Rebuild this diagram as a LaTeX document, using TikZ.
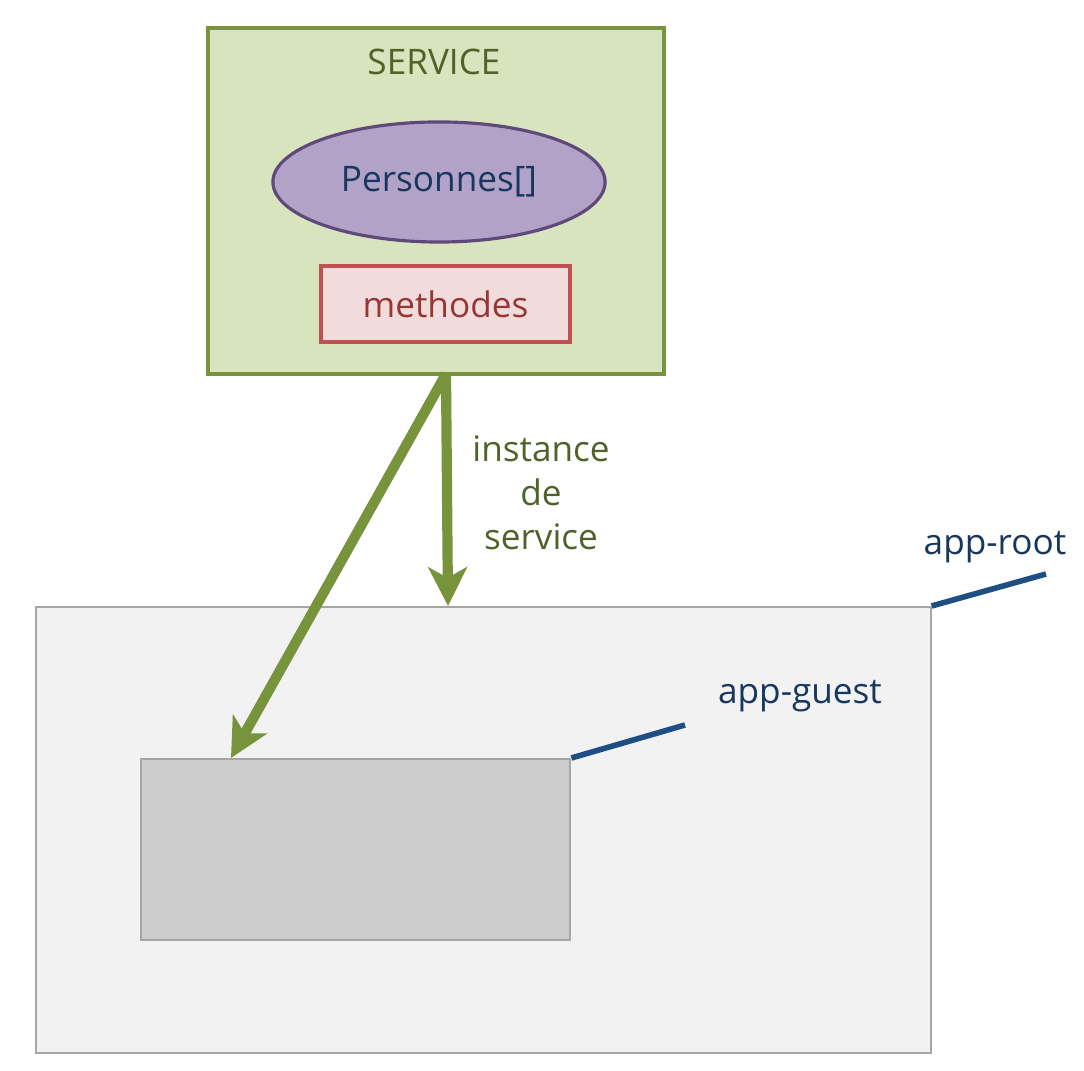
\documentclass[tikz,border=0pt]{standalone}
\usepackage{fontspec}
\setmainfont{Open Sans}
\usetikzlibrary{arrows.meta,shapes.geometric}

\definecolor{svcgreen}{HTML}{77933C}
\definecolor{svcfill}{HTML}{D7E4BD}
\definecolor{svctext}{HTML}{4F6228}
\definecolor{persfill}{HTML}{B3A2C7}
\definecolor{persdraw}{HTML}{5F497A}
\definecolor{methfill}{HTML}{F2DCDB}
\definecolor{methdraw}{HTML}{C0504D}
\definecolor{methtext}{HTML}{953735}
\definecolor{navy}{HTML}{17375E}
\definecolor{callout}{HTML}{1F4E85}
\definecolor{boxgray}{HTML}{A6A6A6}

\tikzset{
  compbox/.style={draw=boxgray, line width=0.6pt, inner sep=0pt, anchor=north west},
  injarrow/.style={svcgreen, line width=2.9pt, -{Stealth[length=11pt, width=11pt, inset=3pt]}},
  calloutline/.style={callout, line width=1.6pt},
  bigtext/.style={font=\fontsize{10pt}{12.5pt}\selectfont}
}

\begin{document}
\begin{tikzpicture}[x=0.01cm, y=-0.01cm]

    \useasboundingbox (0,0) rectangle (1084,1071);

    % service and its content
    \node[draw=svcgreen, fill=svcfill, line width=1.2pt, inner sep=0pt,
          minimum width=4.56cm, minimum height=3.46cm, anchor=north west] (service) at (206,26) {};
    \node[bigtext, text=svctext] (servicelbl) at (434,62) {SERVICE};
    \node[ellipse, draw=persdraw, fill=persfill, line width=0.9pt, minimum width=3.32cm,
          minimum height=1.2cm, bigtext, text=navy] (personnes) at (439,182) {Personnes[]};
    \node[draw=methdraw, fill=methfill, line width=0.9pt, minimum width=2.49cm, minimum height=0.76cm,
          bigtext, text=methtext] (methodes) at (445.5,304) {methodes};

    % components
    \node[compbox, fill=black!5, minimum width=8.94cm, minimum height=4.46cm] (approot) at (35,606) {};
    \node[compbox, fill=black!20, minimum width=4.29cm, minimum height=1.81cm] (appguest) at (140,758) {};

    \coordinate (roottip) at (448,606);
    \coordinate (guesttip) at (231,758);
    \coordinate (svcout) at (446,374);

    \draw[injarrow] (svcout) -- (roottip);
    \draw[injarrow] (svcout) -- (guesttip);
    \node[bigtext, text=svctext, align=center] (instlbl) at (541,493) {instance\\de\\service};

    % labels
    \coordinate (rootend) at (1046,574);
    \coordinate (guestend) at (685,725);
    \draw[calloutline] (approot.north east) -- (rootend);
    \draw[calloutline] (appguest.north east) -- (guestend);
    \node[bigtext, text=navy] (rootlbl) at (995,547) {app-root};
    \node[bigtext, text=navy] (guestlbl) at (800,696) {app-guest};

\end{tikzpicture}
\end{document}
